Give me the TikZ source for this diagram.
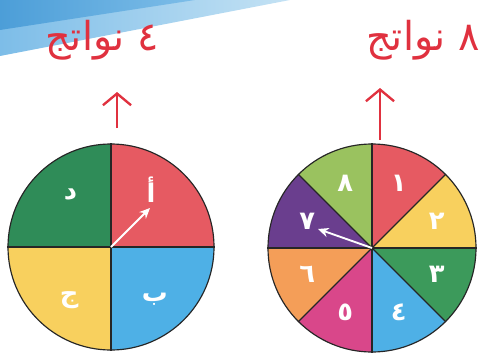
\documentclass[tikz,border=0pt]{standalone}
\usepackage{fontspec}
\usepackage{tikz}
\usetikzlibrary{arrows.meta, positioning, calc, shapes.geometric}
\TeXXeTstate=1
\newfontfamily\arabicfont[Script=Arabic]{DejaVu Sans}
\definecolor{inkred}{HTML}{E0313F}
\definecolor{bannerdeep}{HTML}{4C9ED8}
\definecolor{bannerdark}{HTML}{7DBDE8}
\definecolor{bannerlight}{HTML}{C4E2F4}
\definecolor{secred}{HTML}{E65A62}
\definecolor{secgreen}{HTML}{2F8C58}
\definecolor{secyellow}{HTML}{F8D05E}
\definecolor{secblue}{HTML}{4EB0E6}
\definecolor{secgreenb}{HTML}{3C9A5B}
\definecolor{secpink}{HTML}{D9478A}
\definecolor{secorange}{HTML}{F49E58}
\definecolor{secpurple}{HTML}{6A3E8E}
\definecolor{seclime}{HTML}{9AC25F}

\begin{document}
\begin{tikzpicture}[
    x=0.03cm, y=0.03cm,
    spinner/.style={draw=black!85, line width=1pt, circle, minimum size=#1, inner sep=0pt},
    seclabel/.style={font=\arabicfont\fontsize{22}{24}\selectfont\bfseries, text=white},
    handnote/.style={font=\arabicfont\fontsize{34}{36}\selectfont, text=inkred},
    uparrow/.style={-{Straight Barb[length=10pt, width=24pt, line width=2pt]}, line width=2.2pt, inkred},
    pointer/.style={-{Stealth[length=9pt, width=8pt]}, line width=1.6pt, white},
]
    \useasboundingbox (0,0) rectangle (486,358);

    % banner corner
    \shade[left color=bannerdark, right color=bannerlight] (0,358) -- (290,358) -- (0,302) -- cycle;
    \shade[left color=bannerdeep, right color=bannerdark] (0,358) -- (195,358) -- (0,328) -- cycle;

    % spinner with four outcomes
    \coordinate (cA) at (111,111);
    \fill[secred] (cA) -- ++(0:103) arc (0:90:103) -- cycle;
    \fill[secgreen] (cA) -- ++(90:103) arc (90:180:103) -- cycle;
    \fill[secyellow] (cA) -- ++(180:103) arc (180:270:103) -- cycle;
    \fill[secblue] (cA) -- ++(270:103) arc (270:360:103) -- cycle;
    \node[spinner=6.18cm] (spinA) at (cA) {};
    \draw[black!85, line width=1pt] (spinA.north) -- (spinA.south);
    \draw[black!85, line width=1pt] (spinA.west) -- (spinA.east);
    \node[seclabel] (la) at ($(cA)+(55:70)$) {أ};
    \node[seclabel] (lb) at ($(cA)+(-50:68)$) {ب};
    \node[seclabel] (lc) at ($(cA)+(-128:68)$) {ج};
    \node[seclabel] (ld) at ($(cA)+(128:66)$) {د};
    \coordinate (tipA) at (150,150);
    \draw[pointer] (cA) -- (tipA);

    % spinner with eight outcomes
    \coordinate (cB) at (372,110);
    \foreach \c/\a/\t in {secred/45/١, secyellow/0/٢, secgreenb/-45/٣, secblue/-90/٤, secpink/-135/٥, secorange/-180/٦, secpurple/135/٧, seclime/90/٨} {
        \fill[\c] (cB) -- ++(\a:104) arc (\a:\a+45:104) -- cycle;
        \node[seclabel] at ($(cB)+(\a+22.5:70)$) {\t};
    }
    \node[spinner=6.24cm] (spinB) at (cB) {};
    \foreach \a in {0,45,90,135} {
        \draw[black!85, line width=1pt] (spinB.\a) -- (spinB.\a+180);
    }
    \coordinate (tipB) at (318,129);
    \draw[pointer] (cB) -- (tipB);

    % outcome notes
    \node[handnote] (noteA) at (102,318) {\beginR ٤ نواتج\endR};
    \node[handnote] (noteB) at (423,318) {\beginR ٨ نواتج\endR};
    \coordinate (footA) at (117,230);
    \coordinate (headA) at (117,266);
    \coordinate (footB) at (380,218);
    \coordinate (headB) at (380,270);
    \draw[uparrow] (footA) -- (headA);
    \draw[uparrow] (footB) -- (headB);
\end{tikzpicture}
\end{document}
